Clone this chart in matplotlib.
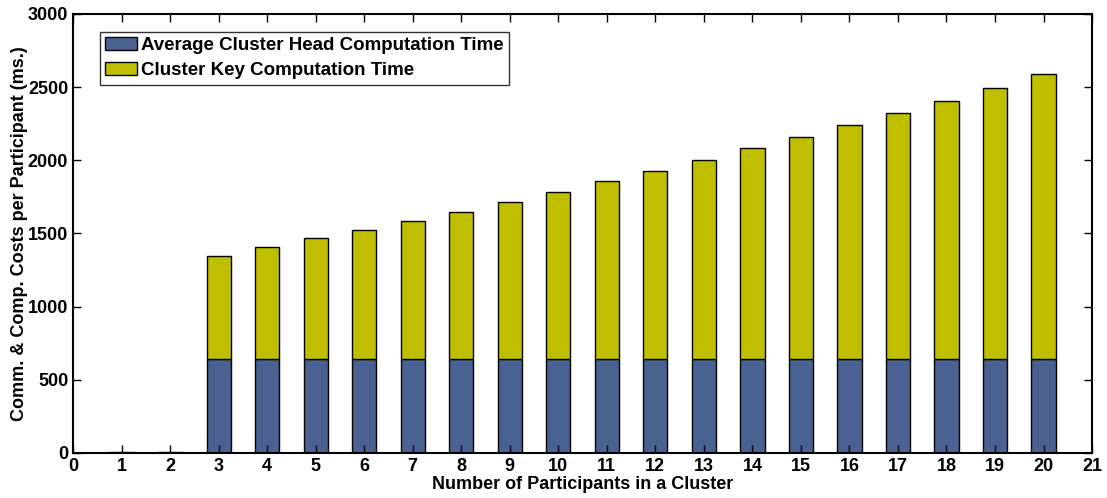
import matplotlib.pyplot as plt
import numpy as np

plt.rcParams['font.family'] = ['Liberation Sans', 'DejaVu Sans']
plt.rcParams['font.weight'] = 'bold'

participants = list(range(1, 21))
head_time = [2, 2] + [640] * 18
total_time = [4, 4, 1346, 1408, 1468, 1524, 1586, 1648, 1716, 1785, 1858, 1930,
              2004, 2083, 2162, 2243, 2325, 2408, 2496, 2588]
key_time = [t - h for t, h in zip(total_time, head_time)]

blue = '#4b6191'
yellow = '#bfbf00'

fig = plt.figure(figsize=(11.07, 4.98), dpi=100)
ax = fig.add_axes([0.066, 0.0904, 0.9205, 0.8815])

x = np.array(participants)
ax.bar(x, head_time, width=0.5, color=blue, edgecolor='black', linewidth=1,
       label='Average Cluster Head Computation Time')
ax.bar(x, key_time, width=0.5, bottom=head_time, color=yellow, edgecolor='black',
       linewidth=1, label='Cluster Key Computation Time')

ax.set_xlim(0, 21)
ax.set_ylim(0, 3000)
ax.set_xticks(range(0, 22))
ax.set_yticks(range(0, 3001, 500))
ax.tick_params(direction='in', length=6, width=1, labelsize=13, top=True, right=True)
for lab in ax.get_xticklabels() + ax.get_yticklabels():
    lab.set_fontweight('bold')
for s in ax.spines.values():
    s.set_linewidth(1.5)

ax.set_xlabel('Number of Participants in a Cluster', fontsize=13, fontweight='bold', labelpad=1)
ax.set_ylabel('Comm. & Comp. Costs per Participant (ms.)', fontsize=13, fontweight='bold', labelpad=0)

leg = ax.legend(loc='upper left', bbox_to_anchor=(0.026, 0.96), fontsize=13.5, frameon=True,
                fancybox=False, edgecolor='black', borderpad=0.3, labelspacing=0.4,
                handlelength=1.7, handletextpad=0.2, borderaxespad=0)
leg.get_frame().set_linewidth(1)
for t in leg.get_texts():
    t.set_fontweight('bold')

fig.savefig('out.png', dpi=100)
